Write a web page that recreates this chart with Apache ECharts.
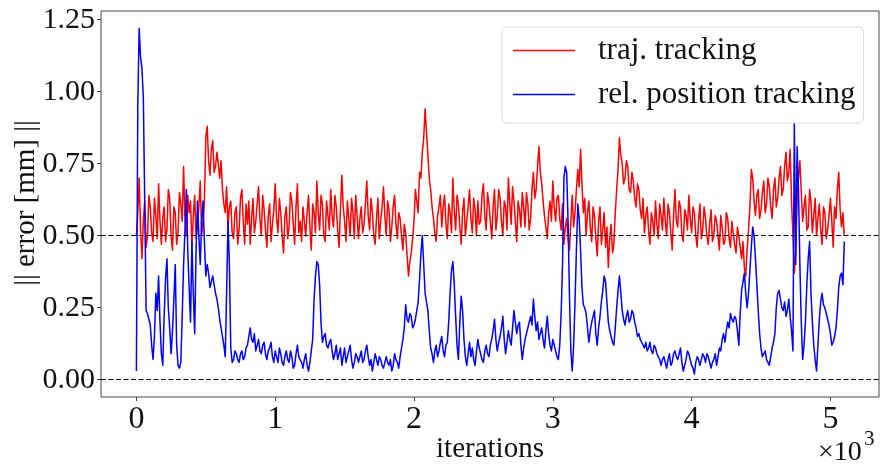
<!DOCTYPE html>
<html>
<head>
<meta charset="utf-8">
<script src="https://cdn.jsdelivr.net/npm/echarts@6/dist/echarts.min.js"></script>
<style>
html,body{margin:0;padding:0;background:#fff;}
#chart{width:882px;height:465px;}
</style>
</head>
<body>
<div id="chart"></div>
<script>
// iteration spacing between samples (both series: one value every 10 iterations)
const STEP = 10;
// || error || of relative position tracking (blue)
const relPositionTracking = [
  0.03,0.95, 1.22,1.12, 1.08,0.98, 0.62,0.24, 0.23,0.21, 0.19,0.12, 0.07,0.15, 0.30,0.24, 0.36,0.20, 0.09,0.05,
  0.22,0.35, 0.42,0.25, 0.18,0.09, 0.17,0.28, 0.40,0.12, 0.05,0.04, 0.06,0.22, 0.40,0.52, 0.66,0.45, 0.32,0.20,
  0.48,0.30, 0.16,0.45, 0.62,0.50, 0.40,0.55, 0.62,0.48, 0.36,0.40, 0.37,0.32, 0.34,0.36, 0.33,0.30, 0.28,0.25,
  0.21,0.18, 0.15,0.12, 0.08,0.30, 0.55,0.40, 0.11,0.06, 0.07,0.10, 0.09,0.07, 0.06,0.09, 0.10,0.07, 0.08,0.11,
  0.12,0.15, 0.18,0.14, 0.13,0.16, 0.10,0.12, 0.14,0.10, 0.09,0.12, 0.13,0.09, 0.07,0.10, 0.11,0.13, 0.08,0.06,
  0.10,0.08, 0.06,0.11, 0.09,0.06, 0.05,0.08, 0.10,0.07, 0.06,0.10, 0.08,0.04, 0.05,0.09, 0.12,0.08, 0.07,0.06,
  0.04,0.07, 0.09,0.05, 0.03,0.06, 0.10,0.14, 0.28,0.36, 0.41,0.40, 0.33,0.20, 0.13,0.15, 0.16,0.12, 0.11,0.13,
  0.14,0.10, 0.07,0.09, 0.12,0.07, 0.09,0.11, 0.05,0.08, 0.11,0.06, 0.08,0.10, 0.12,0.07, 0.04,0.06, 0.09,0.08,
  0.06,0.08, 0.10,0.06, 0.07,0.10, 0.12,0.08, 0.05,0.07, 0.03,0.06, 0.09,0.07, 0.05,0.08, 0.07,0.05, 0.04,0.06,
  0.08,0.06, 0.05,0.07, 0.03,0.05, 0.09,0.07, 0.06,0.04, 0.08,0.11, 0.14,0.18, 0.26,0.21, 0.20,0.23, 0.22,0.18,
  0.19,0.21, 0.24,0.27, 0.35,0.44, 0.50,0.40, 0.30,0.27, 0.24,0.17, 0.11,0.09, 0.06,0.10, 0.12,0.08, 0.10,0.13,
  0.15,0.10, 0.08,0.12, 0.13,0.20, 0.30,0.38, 0.41,0.33, 0.22,0.12, 0.07,0.20, 0.29,0.24, 0.14,0.08, 0.05,0.09,
  0.13,0.08, 0.11,0.07, 0.05,0.10, 0.14,0.11, 0.09,0.07, 0.06,0.10, 0.12,0.09, 0.08,0.12, 0.14,0.17, 0.21,0.14,
  0.10,0.13, 0.15,0.18, 0.22,0.14, 0.09,0.13, 0.17,0.14, 0.12,0.18, 0.24,0.20, 0.16,0.19, 0.20,0.12, 0.07,0.11,
  0.14,0.16, 0.18,0.20, 0.22,0.19, 0.28,0.22, 0.17,0.20, 0.14,0.16, 0.18,0.14, 0.11,0.17, 0.22,0.16, 0.12,0.10,
  0.14,0.12, 0.10,0.08, 0.07,0.12, 0.23,0.40, 0.70,0.74, 0.72,0.55, 0.29,0.10, 0.03,0.12, 0.27,0.45, 0.61,0.56,
  0.45,0.32, 0.26,0.25, 0.23,0.18, 0.13,0.17, 0.20,0.22, 0.24,0.16, 0.12,0.18, 0.22,0.27, 0.31,0.36, 0.34,0.27,
  0.20,0.17, 0.15,0.13, 0.12,0.18, 0.25,0.31, 0.36,0.30, 0.24,0.21, 0.19,0.22, 0.24,0.20, 0.21,0.24, 0.23,0.20,
  0.18,0.15, 0.16,0.14, 0.13,0.12, 0.11,0.13, 0.10,0.11, 0.13,0.10, 0.09,0.12, 0.11,0.09, 0.08,0.07, 0.05,0.07,
  0.08,0.06, 0.04,0.07, 0.09,0.05, 0.06,0.09, 0.10,0.08, 0.07,0.09, 0.11,0.06, 0.03,0.05, 0.07,0.10, 0.09,0.07,
  0.05,0.04, 0.02,0.06, 0.08,0.07, 0.05,0.07, 0.09,0.08, 0.06,0.09, 0.08,0.06, 0.04,0.06, 0.07,0.09, 0.05,0.08,
  0.11,0.10, 0.14,0.16, 0.13,0.17, 0.20,0.18, 0.23,0.21, 0.20,0.22, 0.21,0.17, 0.12,0.23, 0.31,0.34, 0.37,0.30,
  0.25,0.30, 0.38,0.46, 0.53,0.50, 0.42,0.33, 0.24,0.16, 0.11,0.08, 0.09,0.10, 0.07,0.06, 0.05,0.08, 0.11,0.13,
  0.16,0.25, 0.30,0.31, 0.28,0.25, 0.24,0.27, 0.22,0.24, 0.28,0.22, 0.17,0.10, 0.89,0.40, 0.81,0.66, 0.40,0.20,
  0.07,0.12, 0.20,0.33, 0.42,0.48, 0.30,0.20, 0.12,0.07, 0.03,0.12, 0.21,0.27, 0.30,0.26, 0.25,0.23, 0.21,0.19,
  0.16,0.12, 0.13,0.15, 0.18,0.24, 0.32,0.36, 0.37,0.33, 0.48
];
// || error || of trajectory tracking (red)
const trajTracking = [
  0.50,0.58, 0.70,0.52, 0.42,0.55, 0.62,0.46, 0.50,0.64, 0.60,0.51, 0.48,0.63, 0.57,0.49, 0.68,0.55, 0.47,0.56,
  0.60,0.48, 0.52,0.66, 0.63,0.50, 0.45,0.60, 0.58,0.47, 0.51,0.65, 0.61,0.55, 0.74,0.56, 0.50,0.64, 0.58,0.62,
  0.46,0.57, 0.64,0.49, 0.53,0.60, 0.69,0.50, 0.55,0.62, 0.84,0.88, 0.76,0.71, 0.80,0.83, 0.72,0.74, 0.79,0.75,
  0.70,0.76, 0.66,0.61, 0.58,0.67, 0.53,0.60, 0.62,0.51, 0.49,0.58, 0.60,0.47, 0.52,0.63, 0.66,0.55, 0.47,0.61,
  0.54,0.62, 0.47,0.56, 0.63,0.51, 0.55,0.61, 0.67,0.56, 0.50,0.64, 0.59,0.52, 0.46,0.57, 0.61,0.48, 0.54,0.59,
  0.68,0.56, 0.51,0.63, 0.58,0.50, 0.44,0.57, 0.60,0.49, 0.53,0.65, 0.62,0.54, 0.47,0.60, 0.68,0.51, 0.55,0.48,
  0.60,0.55, 0.50,0.58, 0.64,0.53, 0.45,0.61, 0.58,0.51, 0.69,0.58, 0.52,0.64, 0.61,0.50, 0.48,0.62, 0.57,0.52,
  0.66,0.57, 0.53,0.64, 0.60,0.52, 0.46,0.59, 0.71,0.60, 0.55,0.48, 0.62,0.56, 0.50,0.63, 0.58,0.49, 0.64,0.57,
  0.49,0.56, 0.60,0.51, 0.54,0.61, 0.69,0.57, 0.52,0.63, 0.58,0.50, 0.47,0.56, 0.63,0.49, 0.55,0.60, 0.67,0.57,
  0.50,0.62, 0.59,0.48, 0.53,0.60, 0.64,0.54, 0.49,0.58, 0.56,0.50, 0.45,0.54, 0.51,0.43, 0.36,0.41, 0.44,0.49,
  0.55,0.66, 0.62,0.58, 0.72,0.70, 0.79,0.84, 0.94,0.86, 0.78,0.70, 0.66,0.60, 0.56,0.51, 0.48,0.57, 0.60,0.64,
  0.53,0.60, 0.64,0.54, 0.49,0.61, 0.58,0.51, 0.70,0.59, 0.52,0.64, 0.61,0.53, 0.47,0.58, 0.63,0.50, 0.55,0.60,
  0.66,0.56, 0.51,0.63, 0.59,0.50, 0.62,0.54, 0.55,0.64, 0.68,0.57, 0.52,0.65, 0.61,0.55, 0.49,0.60, 0.66,0.52,
  0.57,0.66, 0.63,0.55, 0.50,0.62, 0.60,0.52, 0.70,0.61, 0.54,0.67, 0.62,0.55, 0.48,0.62, 0.59,0.53, 0.65,0.60,
  0.53,0.65, 0.61,0.52, 0.56,0.66, 0.72,0.63, 0.66,0.74, 0.81,0.72, 0.68,0.62, 0.57,0.53, 0.49,0.58, 0.62,0.55,
  0.69,0.60, 0.55,0.63, 0.64,0.56, 0.52,0.61, 0.47,0.53, 0.56,0.49, 0.45,0.55, 0.64,0.53, 0.58,0.66, 0.73,0.67,
  0.80,0.68, 0.58,0.63, 0.50,0.58, 0.62,0.53, 0.48,0.60, 0.57,0.49, 0.43,0.55, 0.60,0.47, 0.52,0.58, 0.46,0.53,
  0.39,0.49, 0.54,0.44, 0.47,0.58, 0.66,0.73, 0.84,0.78, 0.75,0.68, 0.70,0.76, 0.74,0.66, 0.65,0.72, 0.69,0.63,
  0.60,0.68, 0.66,0.59, 0.56,0.63, 0.51,0.57, 0.60,0.52, 0.47,0.58, 0.55,0.50, 0.62,0.54, 0.49,0.61, 0.57,0.52,
  0.63,0.55, 0.50,0.61, 0.58,0.51, 0.45,0.57, 0.66,0.55, 0.53,0.62, 0.60,0.50, 0.48,0.59, 0.57,0.52, 0.64,0.56,
  0.51,0.60, 0.58,0.50, 0.46,0.55, 0.61,0.49, 0.52,0.60, 0.56,0.50, 0.47,0.54, 0.59,0.48, 0.50,0.57, 0.55,0.50,
  0.45,0.57, 0.53,0.47, 0.48,0.58, 0.56,0.49, 0.46,0.55, 0.51,0.47, 0.44,0.53, 0.50,0.46, 0.42,0.48, 0.39,0.36,
  0.45,0.52, 0.60,0.73, 0.70,0.62, 0.57,0.64, 0.66,0.56, 0.59,0.65, 0.69,0.58, 0.61,0.70, 0.67,0.60, 0.56,0.66,
  0.70,0.60, 0.63,0.70, 0.74,0.64, 0.66,0.74, 0.79,0.69, 0.72,0.80, 0.62,0.50, 0.37,0.44, 0.62,0.70, 0.76,0.65,
  0.55,0.60, 0.64,0.52, 0.53,0.66, 0.62,0.51, 0.57,0.63, 0.50,0.56, 0.61,0.52, 0.47,0.60, 0.58,0.49, 0.52,0.57,
  0.63,0.55, 0.46,0.60, 0.56,0.66, 0.72,0.59, 0.53,0.58, 0.50
];
const seriesNames = ['traj. tracking', 'rel. position tracking'];
const xTicks = [0, 1000, 2000, 3000, 4000, 5000];
const xTickLabels = ['0', '1', '2', '3', '4', '5'];
const yTicks = [0, 0.25, 0.5, 0.75, 1.0, 1.25];
const yTickLabels = ['0.00', '0.25', '0.50', '0.75', '1.00', '1.25'];
const refLines = [0.5, 0.0];
const xTitle = 'iterations';
const yTitle = '|| error [mm] ||';

const toXY = arr => arr.map((v, i) => [i * STEP, v]);
const FONT = '"Liberation Serif", "Times New Roman", serif';

const chart = echarts.init(document.getElementById('chart'), null, {renderer: 'canvas'});
chart.setOption({
  animation: false,
  backgroundColor: '#fff',
  grid: {left: 101, right: 3, top: 11, bottom: 68, containLabel: false, outerBoundsMode: 'none',
         show: true, borderColor: '#444', borderWidth: 1, backgroundColor: 'transparent'},
  xAxis: {
    type: 'value', min: -255, max: 5350,
    axisLine: {show: false, onZero: false},
    splitLine: {show: false},
    axisTick: {show: true, inside: false, length: 4, lineStyle: {color: '#444'}, customValues: xTicks},
    axisLabel: {customValues: xTicks, formatter: v => xTickLabels[xTicks.indexOf(v)] ?? '', fontFamily: FONT, fontSize: 32, color: '#111', margin: 7}
  },
  yAxis: {
    type: 'value', min: -0.06, max: 1.28,
    axisLine: {show: false, onZero: false},
    splitLine: {show: false},
    axisTick: {show: true, inside: false, length: 4, lineStyle: {color: '#444'}, customValues: yTicks},
    axisLabel: {customValues: yTicks, formatter: v => yTickLabels[yTicks.indexOf(v)] ?? '', fontFamily: FONT, fontSize: 30, color: '#111', margin: 6}
  },
  legend: {
    data: seriesNames, orient: 'vertical', left: 502, top: 27,
    padding: [8, 8, 13, 11], itemGap: 13, itemWidth: 62, itemHeight: 1.5, icon: 'rect',
    backgroundColor: 'rgba(255,255,255,0.8)', borderColor: '#d8d8d8', borderWidth: 1, borderRadius: 5,
    textStyle: {fontFamily: FONT, fontSize: 31, color: '#111', lineHeight: 30, padding: [0, 0, 0, 18]}
  },
  graphic: [
    {type: 'text', x: 490, y: 449, style: {text: xTitle, font: '29px "Liberation Serif"', fill: '#111', align: 'center', verticalAlign: 'middle'}},
    {type: 'text', x: 26, y: 203, rotation: Math.PI / 2, style: {text: yTitle, font: '29px "Liberation Serif"', fill: '#111', align: 'center', verticalAlign: 'middle'}},
    {type: 'text', left: 818, top: 439, style: {text: '×10', font: '28px "Liberation Serif"', fill: '#111'}},
    {type: 'text', left: 864, top: 429, style: {text: '3', font: '21px "Liberation Serif"', fill: '#111'}}
  ],
  series: [
    {name: seriesNames[0], type: 'line', data: toXY(trajTracking), showSymbol: false, symbol: 'none',
     lineStyle: {color: '#ff0000', width: 1.5, join: 'round'}, itemStyle: {color: '#ff0000'}, sampling: null, z: 2},
    {name: seriesNames[1], type: 'line', data: toXY(relPositionTracking), showSymbol: false, symbol: 'none',
     lineStyle: {color: '#0000ff', width: 1.5, join: 'round'}, itemStyle: {color: '#0000ff'}, sampling: null, z: 3,
     markLine: {silent: true, symbol: 'none', label: {show: false},
       lineStyle: {color: '#000', type: [5, 2.5], width: 1},
       data: refLines.map(v => ({yAxis: v}))}}
  ]
});
</script>
</body>
</html>
